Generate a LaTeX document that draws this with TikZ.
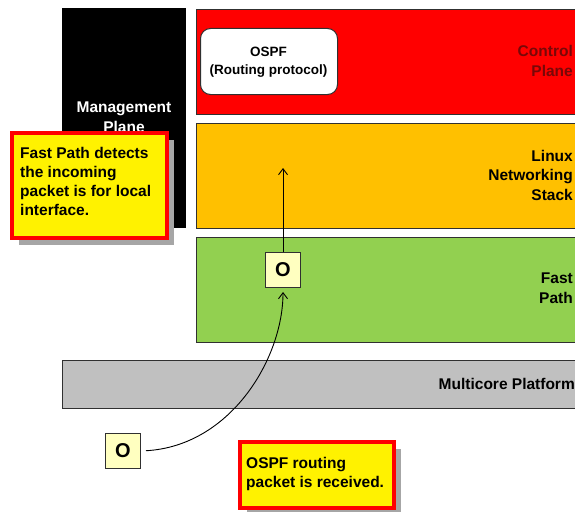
\documentclass[tikz,border=0pt]{standalone}
\usepackage{fontspec}
\setmainfont{Liberation Sans}
\usetikzlibrary{arrows.meta,shadows}
\definecolor{cpred}{HTML}{FF0000}
\definecolor{lnorange}{HTML}{FFC000}
\definecolor{fpgreen}{HTML}{92D050}
\definecolor{mcgrey}{HTML}{C0C0C0}
\definecolor{pktyellow}{HTML}{FFFFC0}
\definecolor{darkred}{HTML}{780808}
\definecolor{borderc}{HTML}{303030}
\begin{document}
\begin{tikzpicture}[x=1pt,y=-1pt,
  layer/.style={draw=borderc, line width=1.2pt, rectangle, inner sep=0pt, anchor=north west},
  lbl/.style={font=\bfseries\fontsize{15.5}{19.5}\selectfont, align=right, anchor=east, inner sep=0pt},
  callout/.style={draw=cpred, line width=4pt, fill=yellow, rectangle, anchor=north west,
    inner sep=0pt,
    general shadow={fill=black!35, shadow xshift=7pt, shadow yshift=-7pt}},
  callouttext/.style={anchor=north west, inner sep=0pt, align=left,
    font=\bfseries\fontsize{15.5}{19}\selectfont},
  pkt/.style={draw=borderc, line width=1pt, fill=pktyellow, minimum size=35pt, inner sep=0pt,
    font=\bfseries\fontsize{20}{20}\selectfont},
  flow/.style={-{Straight Barb[length=6pt,width=9pt]}, line width=0.9pt}]
\path[use as bounding box] (0,0) rectangle (575,511);
\clip (0,0) rectangle (575,511);
% management plane
\node[rectangle, fill=black, inner sep=0pt, anchor=north west, minimum width=124pt, minimum height=220pt] (mgmt) at (62,8) {};
\node[font=\bfseries\fontsize{15.5}{19.5}\selectfont, text=white, align=center, inner sep=0pt] (mgmtlbl) at (124,117) {Management\\Plane};
% layers
\node[layer, fill=cpred, minimum width=390pt, minimum height=105pt] (ctrl) at (196,9) {};
\node[layer, fill=lnorange, minimum width=390pt, minimum height=105pt] (linux) at (196,123) {};
\node[layer, fill=fpgreen, minimum width=390pt, minimum height=105pt] (fast) at (196,237) {};
\node[layer, fill=mcgrey, minimum width=520pt, minimum height=48pt] (multi) at (62,360) {};
% labels
\node[lbl, text=darkred] (ctrllbl) at (573,61) {Control\\Plane};
\node[lbl] (linuxlbl) at (573,175) {Linux\\Networking\\Stack};
\node[lbl] (fastlbl) at (573,288) {Fast\\Path};
\node[lbl] (multilbl) at (575,384) {Multicore Platform};
% OSPF box
\node[draw=borderc, line width=1pt, fill=white, rounded corners=10pt, anchor=north west,
  minimum width=137pt, minimum height=66pt, inner sep=0pt] (ospf) at (200,28) {};
\node[align=center, inner sep=0pt, font=\bfseries\fontsize{13.5}{18}\selectfont] (ospftxt)
  at (268.5,62) {OSPF\\(Routing protocol)};
% packets
\node[pkt, anchor=north west] (pkt1) at (265,252) {O};
\node[pkt, anchor=north west] (pkt2) at (105,433) {O};
\coordinate (uptip) at (283,168);
\draw[flow] (pkt1.north) -- (uptip);
\draw[flow, shorten <=5pt, shorten >=4pt] (pkt2.east) .. controls +(90,-5) and +(0,70) .. (pkt1.south);
% callouts
\node[callout, minimum width=155pt, minimum height=105pt] (call1) at (10,131) {};
\node[callouttext] (call1txt) at (20,147)
  {Fast Path detects\\the incoming\\packet is for local\\interface.};
\node[callout, minimum width=154pt, minimum height=66pt] (call2) at (238,440) {};
\node[callouttext] (call2txt) at (246,457)
  {OSPF routing\\packet is received.};
\end{tikzpicture}
\end{document}
